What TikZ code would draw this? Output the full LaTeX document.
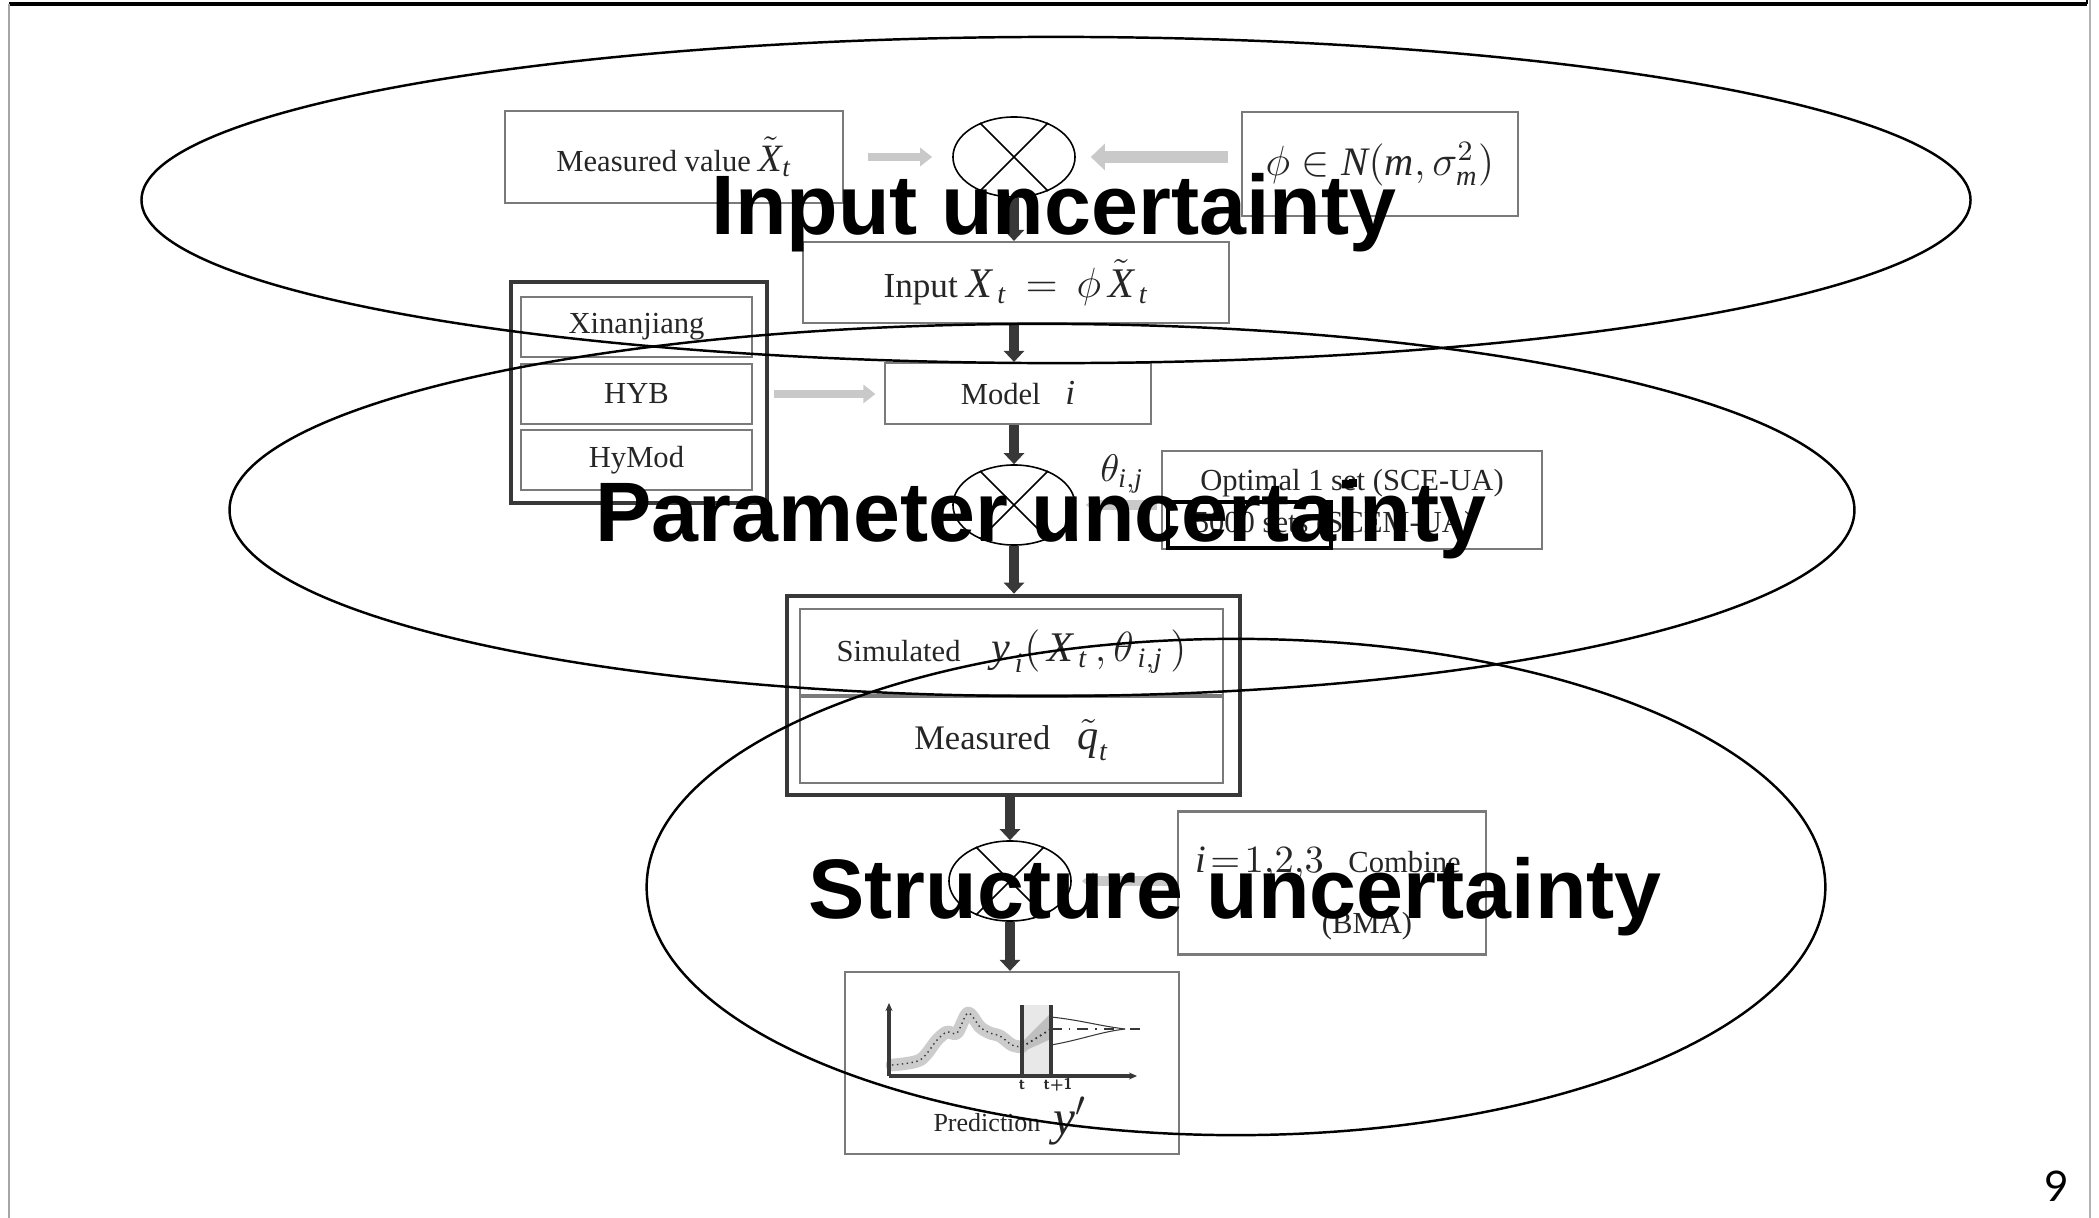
\documentclass[tikz,border=0pt]{standalone}
\usepackage{amsmath}
\usepackage{fontspec}
\setmainfont{Liberation Serif}
\newfontfamily\labelfont{Liberation Sans}
\newfontfamily\pagefont{Lato}
\usetikzlibrary{arrows.meta,shapes.geometric}

% italic serif letters for the formulas
\newcommand{\vi}[1]{\textit{#1}}

\definecolor{boxgray}{HTML}{7A7A7A}
\definecolor{darkline}{HTML}{383838}
\definecolor{feedgray}{HTML}{C9C9C9}
\definecolor{txt}{HTML}{262626}

\tikzset{
  box/.style={draw=boxgray, line width=0.6pt, fill=white, inner sep=0pt, text=txt,
    font=\fontsize{8.7pt}{10pt}\selectfont},
  groupbox/.style={draw=darkline, line width=1.3pt, inner sep=0pt},
  mult/.style={draw=black, ellipse, line width=0.45pt, inner sep=0pt,
    minimum width=1.22cm, minimum height=0.80cm},
  cross/.style={draw=black, line width=0.45pt},
  flow/.style={draw=darkline, line width=2.8pt, -{Triangle[width=0.2cm,length=0.11cm]}},
  feed/.style={draw=feedgray, line width=2.3pt, -{Triangle[width=0.18cm,length=0.12cm]}},
  region/.style={draw=black, line width=0.7pt},
  biglabel/.style={font=\labelfont\bfseries\fontsize{24pt}{28pt}\selectfont, text=black,
    inner sep=0pt, anchor=base},
  plain/.style={inner sep=0pt, text=txt, font=\fontsize{8.7pt}{10pt}\selectfont},
}

\begin{document}
\begin{tikzpicture}[x=0.01cm, y=-0.01cm]
\useasboundingbox (0,0) rectangle (2099,1218);

% slide frame
\draw[black, line width=0.9pt] (9,4) -- (2087,4);
\draw[black, line width=0.6pt] (2087,0) -- (2087,4);
\draw[gray!70, line width=0.6pt] (9,4) -- (9,1218);
\draw[gray!60, line width=0.6pt] (2090,0) -- (2090,1218);

% ---------- input stage ----------
\node[box, minimum width=3.37cm, minimum height=0.92cm] (meas) at (674,157)
  {Measured value {\fontsize{11pt}{13pt}\selectfont$\tilde{\vi{X}}_{\vi{t}}$}};
\node[mult] (c1) at (1014,157) {};
\draw[cross] (c1.45) -- (c1.225) (c1.135) -- (c1.-45);
\node[box, minimum width=2.75cm, minimum height=1.04cm, font=\fontsize{11.5pt}{13pt}\selectfont]
  (phi) at (1380,164) {$\phi\in \vi{N}(\vi{m},\sigma_{\vi{m}}^2)$};
\node[box, minimum width=4.26cm, minimum height=0.81cm, font=\fontsize{10pt}{12pt}\selectfont]
  (input) at (1016,282.5)
  {Input {\fontsize{12pt}{14pt}\selectfont$\vi{X}_{\,\vi{t}} \,=\, \phi\,\tilde{\vi{X}}_{\,\vi{t}}$}};

% ---------- model stage ----------
\node[groupbox, minimum width=2.56cm, minimum height=2.21cm] (group) at (639,392.5) {};
\node[box, minimum width=2.31cm, minimum height=0.60cm] (xin) at (636.5,327) {Xinanjiang};
\node[box, minimum width=2.31cm, minimum height=0.60cm] (hyb) at (636.5,394) {HYB};
\node[box, minimum width=2.31cm, minimum height=0.60cm] (hymod) at (636.5,460) {HyMod};
\node[box, minimum width=2.65cm, minimum height=0.61cm] (model) at (1018,393.5)
  {Model\;\; {\fontsize{10pt}{12pt}\selectfont\vi{i}}};

% ---------- parameter stage ----------
\node[mult] (c2) at (1014,505) {};
\draw[cross] (c2.45) -- (c2.225) (c2.135) -- (c2.-45);
\node[plain, font=\fontsize{11pt}{13pt}\selectfont] (theta) at (1122,474) {$\theta_{\vi{i},\vi{j}}$};
\node[box, minimum width=3.80cm, minimum height=0.98cm] (param) at (1352,500) {};
\node[plain] (opt1) at (1352,483) {Optimal 1 set (SCE-UA)};
\node[plain] (opt2) at (1334,525) {5000 sets (SCEM-UA)};
\draw[black, line width=0.9pt] (1168,502) rectangle (1331,548);
\fill[black] (1349,479) rectangle (1357,487);

% ---------- simulated / measured ----------
\node[groupbox, minimum width=4.53cm, minimum height=1.99cm] (simout) at (1013.5,695.5) {};
\node[box, minimum width=4.23cm, minimum height=0.86cm] (sim) at (1011.5,652)
  {Simulated\quad {\fontsize{12pt}{14pt}\selectfont
   $\vi{y}_{\,\vi{i}}(\,\vi{X}_{\,\vi{t}}\,,\theta_{\,\vi{i},\vi{j}}\,)$}};
\node[box, minimum width=4.23cm, minimum height=0.86cm, font=\fontsize{9.8pt}{12pt}\selectfont]
  (obs) at (1011.5,740) {Measured\;\; {\fontsize{12pt}{14pt}\selectfont$\tilde{\vi{q}}_{\vi{t}}$}};

% ---------- structure stage ----------
\node[mult] (c3) at (1010,881) {};
\draw[cross] (c3.45) -- (c3.225) (c3.135) -- (c3.-45);
\node[box, minimum width=3.08cm, minimum height=1.43cm] (bma) at (1332,883) {};
\node[plain] (comb) at (1328,863)
  {{\fontsize{11pt}{13pt}\selectfont$\vi{i}\!=\!1,\!2,\!3$}\;\; Combine};
\node[plain] (bmatxt) at (1367,926) {(BMA)};

% ---------- prediction ----------
\node[box, minimum width=3.34cm, minimum height=1.82cm] (pred) at (1012,1063) {};
\node[plain, font=\fontsize{7.4pt}{9pt}\selectfont] (predtxt) at (987,1123) {Prediction};
\node[plain, font=\fontsize{14pt}{15pt}\selectfont] (ypr) at (1070,1121) {$\vi{y}'$};

% forecast sketch
\fill[gray!18] (1024,1005) rectangle (1049,1076);
\draw[gray!40, line width=3.6pt, line cap=round, line join=round]
  plot[smooth] coordinates {(892,1065) (920,1060) (937,1040) (947,1032) (957,1033) (968,1013)
    (980,1027) (990,1033) (1000,1036) (1012,1045) (1022,1047)};
\fill[gray!50] (1022,1042) -- (1051,1013) -- (1051,1039) -- (1022,1052) -- cycle;
\draw[darkline, line width=0.4pt, densely dotted]
  plot[smooth] coordinates {(892,1065) (920,1060) (937,1040) (947,1032) (957,1033) (968,1013)
    (980,1027) (990,1033) (1000,1036) (1012,1045) (1022,1047)};
\draw[darkline, line width=0.5pt, densely dotted] (1022,1047) -- (1051,1029);
\draw[darkline, line width=0.5pt, dash dot] (1051,1029) -- (1140,1029);
\draw[darkline, line width=0.3pt] (1051,1017) .. controls (1080,1020) and (1100,1026) .. (1125,1029);
\draw[darkline, line width=0.3pt] (1051,1045) .. controls (1080,1040) and (1100,1032) .. (1125,1029);
\draw[darkline, line width=1pt, -{Stealth[length=0.08cm,width=0.07cm]}] (889,1076) -- (889,1003);
\draw[darkline, line width=1pt, -{Stealth[length=0.08cm,width=0.07cm]}] (889,1076) -- (1137,1076);
\draw[darkline, line width=1pt] (1022,1005) -- (1022,1076);
\draw[darkline, line width=1pt] (1051,1005) -- (1051,1076);
\node[plain, font=\sffamily\bfseries\fontsize{4.5pt}{5pt}\selectfont] (tick1) at (1022,1085) {t};
\node[plain, font=\sffamily\bfseries\fontsize{4.5pt}{5pt}\selectfont] (tick2) at (1058,1085) {t+1};

% ---------- connectors ----------
\draw[flow] (c1.south) -- (c1.south |- input.north);
\draw[flow] (c1.south |- input.south) -- (c1.south |- model.north);
\draw[flow] (c2 |- model.south) -- (c2.north);
\draw[flow] (c2.south) -- (c2.south |- simout.north);
\draw[flow] (c3 |- simout.south) -- (c3.north);
\draw[flow] (c3.south) -- (c3.south |- pred.north);

\draw[feed, shorten <=0.24cm, shorten >=0.2cm] (meas.east |- c1) -- (c1.west);
\draw[feed, line width=3.4pt, -{Triangle[width=0.26cm,length=0.14cm]},
  shorten <=0.13cm, shorten >=0.15cm] (phi.west |- c1) -- (c1.east);
\draw[feed, shorten <=0.05cm, shorten >=0.09cm] (group.east |- hyb) -- (model.west |- hyb);
\draw[feed, line width=2.8pt, shorten <=0.04cm, shorten >=0.1cm] (param.west |- c2) -- (c2.east);
\draw[feed, line width=2.8pt, shorten <=0.03cm, shorten >=0.1cm] (bma.west |- c3) -- (c3.east);

% ---------- uncertainty regions ----------
\draw[region] (1056,200) ellipse [x radius=9.14cm, y radius=1.63cm];
\draw[region] (1042,510) ellipse [x radius=8.12cm, y radius=1.86cm];
\draw[region] (1236,887) ellipse [x radius=5.89cm, y radius=2.48cm];

\node[biglabel] (lin) at (1054,234) {Input uncertainty};
\node[biglabel] (lpar) at (1041,541) {Parameter uncertainty};
\node[biglabel] (lstr) at (1235,918) {Structure uncertainty};

% page number
\node[inner sep=0pt, font=\pagefont\fontsize{12pt}{14pt}\selectfont] (pnum) at (2057,1186) {9};
\end{tikzpicture}
\end{document}
